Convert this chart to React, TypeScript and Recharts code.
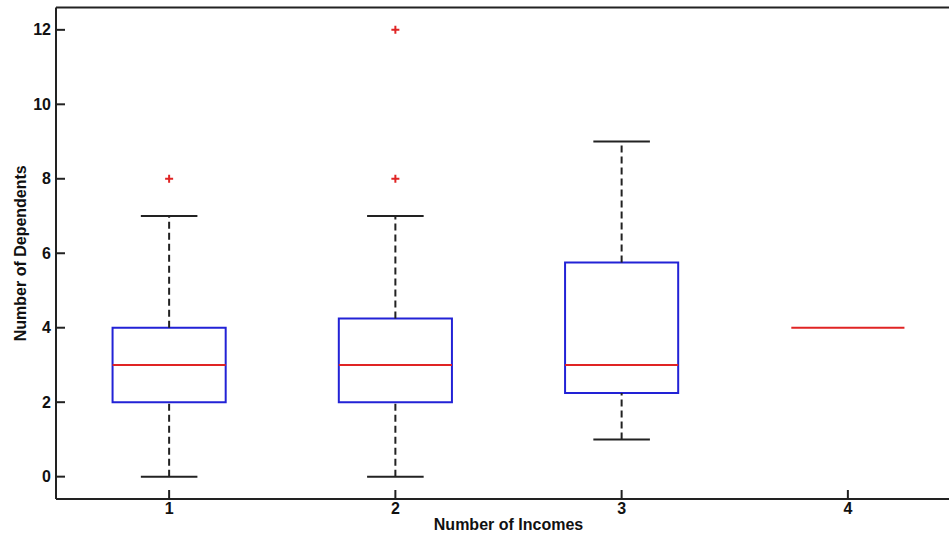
import React from 'react';
import {
  ComposedChart,
  XAxis,
  YAxis,
  Scatter,
  ReferenceArea,
  ReferenceLine,
  Label,
} from 'recharts';

// ---- data ----
const categories = [1, 2, 3, 4];
const tickLabelsX = ['1', '2', '3', '4'];
const yTicks = [0, 2, 4, 6, 8, 10, 12];
const q1 = [2, 2, 2.25, 4];
const median = [3, 3, 3, 4];
const q3 = [4, 4.25, 5.75, 4];
const whiskerLow = [0, 0, 1, 4];
const whiskerHigh = [7, 7, 9, 4];
const outlierX = [1, 2, 2];
const outlierY = [8, 8, 12];

const outliers = outlierX.map((x, i) => ({ x, y: outlierY[i] }));

// ---- styles ----
const BOX_HALF = 0.25;
const CAP_HALF = 0.125;
const BLUE = '#2222d6';
const RED = '#e02424';
const BLACK = '#222222';
const FONT = '"Liberation Sans", Arial, sans-serif';
const TICK_LEN = 9;
const TICK_FONT = 16;
const LABEL_FONT = 16;

const YTick = (props: any) => {
  const { x, y, payload } = props;
  const axisX = x + 5;
  return (
    <g>
      <line x1={axisX} x2={axisX + TICK_LEN} y1={y} y2={y} stroke={BLACK} strokeWidth={2} />
      <text x={x} y={y} dy={5.5} textAnchor="end" fontFamily={FONT} fontWeight="bold" fontSize={TICK_FONT} fill="#111">
        {payload.value}
      </text>
    </g>
  );
};

const XTick = (props: any) => {
  const { x, y, payload, index } = props;
  const axisY = y - 2;
  return (
    <g>
      <line x1={x} x2={x} y1={axisY} y2={axisY - TICK_LEN} stroke={BLACK} strokeWidth={2} />
      <text x={x} y={axisY + 14.5} textAnchor="middle" fontFamily={FONT} fontWeight="bold" fontSize={TICK_FONT} fill="#111">
        {tickLabelsX[index] ?? payload.value}
      </text>
    </g>
  );
};

const TopTick = (props: any) => {
  const { x, y } = props;
  const axisY = y + 2;
  return <line x1={x} x2={x} y1={axisY} y2={axisY + TICK_LEN} stroke={BLACK} strokeWidth={2} />;
};

const RightTick = (props: any) => {
  const { x, y } = props;
  const axisX = x - 2;
  return <line x1={axisX} x2={axisX - TICK_LEN} y1={y} y2={y} stroke={BLACK} strokeWidth={2} />;
};

const Plus = (props: any) => {
  const { cx, cy } = props;
  return (
    <path d={`M${cx - 4},${cy}h8M${cx},${cy - 4}v8`} stroke={RED} strokeWidth={2} fill="none" />
  );
};

const isDegenerate = (i: number) => whiskerLow[i] === whiskerHigh[i];

export default function App() {
  return (
    <div
      style={{
        position: 'fixed',
        left: 0,
        top: 0,
        width: 949,
        height: 535,
        overflow: 'hidden',
        background: '#fff',
      }}
    >
      <ComposedChart width={975} height={535} margin={{ top: 0, right: 0, bottom: 0, left: 0 }}>
        <XAxis
          xAxisId={0}
          type="number"
          dataKey="x"
          domain={[0.5, 4.5]}
          ticks={categories}
          allowDataOverflow
          height={36}
          tickSize={0}
          tickMargin={2}
          tickLine={false}
          axisLine={{ stroke: BLACK, strokeWidth: 2 }}
          tick={<XTick />}
          interval={0}
        >
          <Label
            content={(p: any) => {
              const vb = p.viewBox;
              return (
                <text
                  x={vb.x + vb.width / 2}
                  y={vb.y + 30.5}
                  textAnchor="middle"
                  fontFamily={FONT}
                  fontWeight="bold"
                  fontSize={LABEL_FONT}
                  fill="#111"
                >
                  Number of Incomes
                </text>
              );
            }}
          />
        </XAxis>
        <XAxis
          xAxisId="top"
          orientation="top"
          type="number"
          domain={[0.5, 4.5]}
          ticks={categories}
          allowDataOverflow
          height={7.5}
          tickSize={0}
          tickMargin={2}
          tickLine={false}
          axisLine={{ stroke: BLACK, strokeWidth: 2 }}
          tick={<TopTick />}
          interval={0}
        />
        <YAxis
          yAxisId={0}
          type="number"
          dataKey="y"
          domain={[-0.6, 12.6]}
          ticks={yTicks}
          allowDataOverflow
          width={56}
          tickSize={0}
          tickMargin={5}
          tickLine={false}
          axisLine={{ stroke: BLACK, strokeWidth: 2 }}
          tick={<YTick />}
          interval={0}
        >
          <Label
            content={(p: any) => {
              const vb = p.viewBox;
              const cx = vb.x + 25.5;
              const cy = vb.y + vb.height / 2;
              return (
                <text
                  x={cx}
                  y={cy}
                  transform={`rotate(-90 ${cx} ${cy})`}
                  textAnchor="middle"
                  fontFamily={FONT}
                  fontWeight="bold"
                  fontSize={LABEL_FONT}
                  fill="#111"
                >
                  Number of Dependents
                </text>
              );
            }}
          />
        </YAxis>
        <YAxis
          yAxisId="right"
          orientation="right"
          type="number"
          domain={[-0.6, 12.6]}
          ticks={yTicks}
          allowDataOverflow
          width={14}
          tickSize={0}
          tickMargin={2}
          tickLine={false}
          axisLine={{ stroke: BLACK, strokeWidth: 2 }}
          tick={<RightTick />}
          interval={0}
        />

        {categories.map((c, i) =>
          isDegenerate(i) ? null : (
            <ReferenceLine
              key={`wh-${i}`}
              segment={[
                { x: c, y: q3[i] },
                { x: c, y: whiskerHigh[i] },
              ]}
              stroke={BLACK}
              strokeWidth={2}
              strokeDasharray="7 4"
            />
          )
        )}
        {categories.map((c, i) =>
          isDegenerate(i) ? null : (
            <ReferenceLine
              key={`wl-${i}`}
              segment={[
                { x: c, y: whiskerLow[i] },
                { x: c, y: q1[i] },
              ]}
              stroke={BLACK}
              strokeWidth={2}
              strokeDasharray="7 4"
            />
          )
        )}
        {categories.map((c, i) =>
          isDegenerate(i) ? null : (
            <ReferenceLine
              key={`ch-${i}`}
              segment={[
                { x: c - CAP_HALF, y: whiskerHigh[i] },
                { x: c + CAP_HALF, y: whiskerHigh[i] },
              ]}
              stroke={BLACK}
              strokeWidth={2}
            />
          )
        )}
        {categories.map((c, i) =>
          isDegenerate(i) ? null : (
            <ReferenceLine
              key={`cl-${i}`}
              segment={[
                { x: c - CAP_HALF, y: whiskerLow[i] },
                { x: c + CAP_HALF, y: whiskerLow[i] },
              ]}
              stroke={BLACK}
              strokeWidth={2}
            />
          )
        )}
        {categories.map((c, i) =>
          isDegenerate(i) ? null : (
            <ReferenceArea
              key={`box-${i}`}
              x1={c - BOX_HALF}
              x2={c + BOX_HALF}
              y1={q1[i]}
              y2={q3[i]}
              stroke={BLUE}
              strokeWidth={2}
              fill="none"
              fillOpacity={0}
            />
          )
        )}
        {categories.map((c, i) => (
          <ReferenceLine
            key={`med-${i}`}
            segment={[
              { x: c - BOX_HALF, y: median[i] },
              { x: c + BOX_HALF, y: median[i] },
            ]}
            stroke={RED}
            strokeWidth={2}
          />
        ))}
        <Scatter data={outliers} shape={<Plus />} isAnimationActive={false} />
      </ComposedChart>
    </div>
  );
}
